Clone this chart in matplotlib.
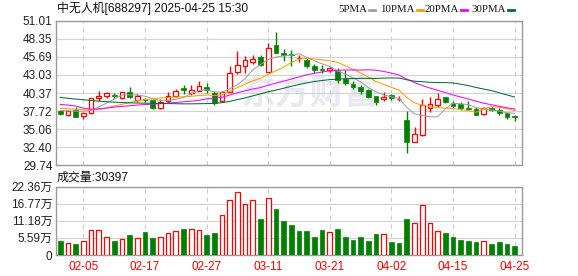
import numpy as np
import pandas as pd
import matplotlib
matplotlib.use('Agg')
from matplotlib import pyplot as plt
from matplotlib.lines import Line2D

plt.rcParams['font.family'] = ['Liberation Sans', 'Noto Sans CJK SC']

# daily K-line of 688297, last 60 trading days
dates = ['01-23', '01-24', '01-27', '02-05', '02-06', '02-07', '02-10', '02-11', '02-12', '02-13',
         '02-14', '02-17', '02-18', '02-19', '02-20', '02-21', '02-24', '02-25', '02-26', '02-27',
         '02-28', '03-03', '03-04', '03-05', '03-06', '03-07', '03-10', '03-11', '03-12', '03-13',
         '03-14', '03-17', '03-18', '03-19', '03-20', '03-21', '03-24', '03-25', '03-26', '03-27',
         '03-28', '03-31', '04-01', '04-02', '04-03', '04-07', '04-08', '04-09', '04-10', '04-11',
         '04-14', '04-15', '04-16', '04-17', '04-18', '04-21', '04-22', '04-23', '04-24', '04-25']
opens = [37.72, 37.2, 37.86, 36.95, 37.45, 39.7, 40.0, 40.0, 39.7, 40.45,
         39.4, 39.45, 39.35, 38.1, 39.2, 40.0, 41.05, 40.35, 40.7, 41.3,
         40.35, 39.2, 40.55, 43.4, 44.3, 45.0, 45.65, 43.5, 47.45, 46.25,
         46.05, 45.5, 45.25, 44.4, 43.85, 43.7, 43.6, 42.5, 41.75, 41.3,
         40.8, 39.95, 39.5, 40.15, 39.5, 36.4, 33.2, 34.2, 38.1, 38.6,
         39.75, 38.85, 38.7, 38.15, 38.0, 37.25, 38.15, 37.85, 37.45, 37.0]
highs = [37.85, 37.85, 38.3, 37.55, 39.65, 40.6, 40.5, 40.4, 40.55, 41.3,
         40.2, 39.6, 39.4, 39.45, 40.55, 41.0, 41.5, 41.5, 42.2, 41.8,
         40.7, 40.7, 44.3, 46.6, 45.8, 46.0, 46.0, 47.8, 49.3, 46.8,
         46.7, 46.0, 45.65, 44.65, 44.5, 44.2, 44.0, 43.7, 42.2, 41.6,
         40.9, 40.0, 40.55, 40.3, 39.95, 37.8, 35.4, 39.45, 39.75, 40.35,
         39.8, 39.2, 39.0, 39.2, 38.3, 38.3, 38.25, 38.1, 37.5, 37.1]
lows = [37.2, 37.0, 36.85, 36.5, 37.3, 39.25, 39.7, 39.5, 39.45, 39.7,
        39.1, 39.1, 37.95, 38.0, 38.85, 39.9, 40.2, 40.1, 40.6, 40.35,
        38.6, 39.15, 40.5, 43.2, 43.3, 44.6, 44.4, 43.4, 46.2, 45.15,
        44.4, 45.0, 44.1, 43.3, 43.3, 43.5, 41.9, 41.5, 41.0, 40.2,
        39.6, 38.65, 39.2, 39.4, 39.2, 31.55, 33.1, 34.0, 37.6, 38.35,
        38.85, 38.1, 37.9, 37.9, 37.15, 37.2, 37.8, 37.1, 36.6, 36.3]
closes = [37.25, 37.8, 36.9, 37.5, 39.6, 40.0, 40.35, 39.95, 40.45, 39.75,
          40.0, 39.35, 38.1, 39.1, 40.0, 40.7, 40.75, 40.8, 41.4, 40.75,
          38.95, 40.55, 43.3, 44.5, 45.2, 45.35, 44.5, 47.0, 46.3, 46.0,
          45.95, 45.5, 44.3, 43.8, 43.75, 44.0, 42.3, 41.9, 41.2, 40.65,
          39.8, 39.1, 39.8, 39.65, 39.5, 33.2, 34.4, 38.6, 38.7, 39.45,
          39.1, 38.5, 38.2, 38.05, 37.2, 38.1, 37.85, 37.4, 36.8, 36.8]
# volume in 万手
volumes = [4.56, 3.9, 3.69, 4.56, 8.03, 8.03, 5.75, 4.56, 5.1, 6.5,
           5.4, 7.5, 5.5, 5.75, 7.2, 7.8, 8.5, 8.4, 8.0, 6.5,
           7.2, 13.0, 18.1, 20.7, 16.5, 17.8, 11.7, 18.5, 15.0, 11.1,
           9.9, 7.8, 7.8, 5.9, 8.1, 7.5, 8.5, 5.9, 4.9, 5.9,
           4.56, 6.8, 6.8, 4.3, 4.0, 11.7, 10.4, 16.3, 10.4, 7.8,
           7.2, 5.9, 4.9, 4.56, 4.2, 4.56, 3.7, 4.2, 3.7, 3.0397]

# MA values at the start of the window (history before 01-23 not in the arrays above)
ma5_head = [37.8, 37.75, 37.7, 37.7]
ma10_head = [38.1, 38.05, 38.0, 37.9, 37.88, 37.95, 38.2, 38.45, 38.7]
ma20_head = [38.7, 38.6, 38.45, 38.15, 38.0, 38.05, 38.15, 38.3, 38.4, 38.5,
             38.6, 38.68, 38.72, 38.8, 38.9, 38.98, 39.08, 39.18, 39.3]
ma30_head = [39.72, 39.6, 39.48, 39.38, 39.28, 39.18, 39.1, 39.03, 38.97, 38.93,
             38.9, 38.88, 38.86, 38.84, 38.82, 38.8, 38.78, 38.78, 38.8, 38.82,
             38.85, 38.95, 39.15, 39.4, 39.65, 39.95, 40.25, 40.55, 40.8]

price_ticks = [29.74, 32.40, 35.06, 37.72, 40.37, 43.03, 45.69, 48.35, 51.01]
vol_ticks = [0, 5.59, 11.18, 16.77, 22.36]
vol_labels = ['0', '5.59万', '11.18万', '16.77万', '22.36万']
ma_names = ['5PMA', '10PMA', '20PMA', '30PMA']
ma_colors = ['#a0a0a0', '#f5a000', '#ff00ff', '#006f3a']

RED = '#ff0000'
GREEN = '#008000'


def moving_average(values, n, head):
    ma = pd.Series(values).rolling(n).mean().to_numpy()
    ma[:len(head)] = head
    return ma


o = np.array(opens)
h = np.array(highs)
l = np.array(lows)
c = np.array(closes)
v = np.array(volumes)
x = np.arange(len(c))
prev_c = np.concatenate([[c[0]], c[:-1]])

up = c >= o
vol_up = (c > o) | ((c == o) & (c >= prev_c))
body_lo = np.minimum(o, c)
body_hi = np.maximum(o, c)
body_h = np.maximum(body_hi - body_lo, 0.06)

fig = plt.figure(figsize=(5.78, 2.76), dpi=100)
ax = fig.add_axes([56 / 578, 1 - 165.3 / 276, 466 / 578, 144.6 / 276])
axv = fig.add_axes([56 / 578, 1 - 255 / 276, 466 / 578, 68.5 / 276])

tick_idx = [i for i in range(len(dates)) if i % 8 == 3]

for a in (ax, axv):
    a.set_xlim(-0.56, 59.96)
    a.set_xticks(tick_idx)
    a.set_axisbelow(True)
    a.xaxis.grid(True, color='#cfcfcf', linestyle=(0, (4, 4)), lw=0.8)
    a.yaxis.grid(True, color='#d2d2d2', linestyle='-', lw=0.8)
    a.tick_params(length=0, labelsize=8.5, colors='#222222')
    for s in a.spines.values():
        s.set_color('#9a9a9a')
        s.set_linewidth(1.0)

# watermark
ax.text(0.545, 0.5, '东方财富', transform=ax.transAxes, fontsize=25, fontweight='bold',
        color='#e9e9f0', ha='center', va='center', family=['Noto Sans CJK SC'], zorder=0.5)

# candles
ax.vlines(x, l, body_lo, color=np.where(up, RED, GREEN), lw=1.0, zorder=2.5)
ax.vlines(x, body_lo + body_h, h, color=np.where(up, RED, GREEN), lw=1.0, zorder=2.5)
ax.bar(x[up], body_h[up], bottom=body_lo[up], width=0.62, facecolor='white',
       edgecolor=RED, lw=0.9, zorder=3)
ax.bar(x[~up], body_h[~up], bottom=body_lo[~up], width=0.62, color=GREEN,
       edgecolor=GREEN, lw=0.5, zorder=3)

# moving averages
mas = [moving_average(c, 5, ma5_head), moving_average(c, 10, ma10_head),
       moving_average(c, 20, ma20_head), moving_average(c, 30, ma30_head)]
for ma, col in zip(mas, ma_colors):
    ax.plot(x, ma, color=col, lw=0.75, zorder=4)

ax.set_ylim(price_ticks[0], price_ticks[-1])
ax.set_yticks(price_ticks)
ax.set_yticklabels(['%.2f' % t for t in price_ticks])
ax.tick_params(axis='x', labelbottom=False)
ax.tick_params(axis='y', pad=2.5)

# volume
axv.bar(x[vol_up], v[vol_up], width=0.62, facecolor='white', edgecolor=RED, lw=0.9, zorder=3)
axv.bar(x[~vol_up], v[~vol_up], width=0.62, color=GREEN, edgecolor=GREEN, lw=0.5, zorder=3)
axv.set_ylim(vol_ticks[0], vol_ticks[-1])
axv.set_yticks(vol_ticks)
axv.set_yticklabels(vol_labels)
axv.set_xticklabels([dates[i] for i in tick_idx])
axv.tick_params(axis='x', colors=RED, pad=4.5)
axv.tick_params(axis='y', pad=2.5)

# header texts
fig.text(57 / 578, 1 - 8.5 / 276, '中无人机[688297] 2025-04-25 15:30', fontsize=8.6,
         va='center', ha='left', color='#111111')
fig.text(57 / 578, 1 - 178 / 276, '成交量:%d' % round(volumes[-1] * 10000), fontsize=8.6,
         va='center', ha='left', color='#111111')

# MA legend
leg_x = [338, 380, 425, 471]
for name, col, lx in zip(ma_names, ma_colors, leg_x):
    t = fig.text(lx / 578, 1 - 9 / 276, name, fontsize=7.8, family=['Liberation Serif'],
                 va='center', ha='left', color='#111111')
    fig.canvas.draw()
    bb = t.get_window_extent()
    x0 = (bb.x1 + 2) / 578
    fig.add_artist(Line2D([x0, x0 + 6 / 578], [1 - 9.5 / 276] * 2, color=col, lw=2.0))

fig.savefig('out.png', dpi=100)
